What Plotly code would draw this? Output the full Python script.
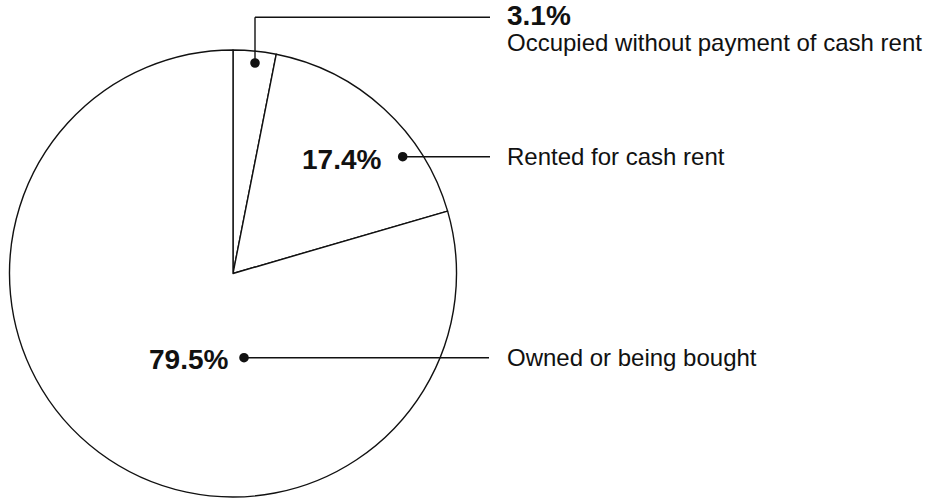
import plotly.graph_objects as go

W, H = 938, 498

categories = ["Occupied without payment of cash rent", "Rented for cash rent", "Owned or being bought"]
values = [3.1, 17.4, 79.5]
pct_labels = ["3.1%", "17.4%", "79.5%"]

def px(x):
    return x / W

def py(y):
    return 1 - y / H

FONT = "Liberation Sans, Arial, Helvetica, sans-serif"
INK = "#111111"

# pie geometry (pixels)
cx, cy, r = 233, 273.5, 223.5

fig = go.Figure(go.Pie(
    labels=categories,
    values=values,
    sort=False,
    direction="clockwise",
    rotation=0,
    textinfo="none",
    hoverinfo="label+percent",
    marker=dict(colors=["white"] * 3, line=dict(color=INK, width=1.4)),
    domain=dict(x=[px(cx - r), px(cx + r)], y=[py(cy + r), py(cy - r)]),
    showlegend=False,
))

shapes = []
ann = []

def line(x0, y0, x1, y1):
    shapes.append(dict(type="line", xref="paper", yref="paper",
                       x0=px(x0), y0=py(y0), x1=px(x1), y1=py(y1),
                       line=dict(color=INK, width=1.4)))

def dot(x, y, rad=4.8):
    shapes.append(dict(type="circle", xref="paper", yref="paper",
                       x0=px(x - rad), x1=px(x + rad), y0=py(y + rad), y1=py(y - rad),
                       fillcolor=INK, line=dict(color=INK, width=0)))

def text(t, x, y, size, bold=False, xanchor="left", yanchor="middle"):
    ann.append(dict(text=f"<b>{t}</b>" if bold else t, xref="paper", yref="paper",
                    x=px(x), y=py(y), xanchor=xanchor, yanchor=yanchor, align="left",
                    showarrow=False, font=dict(family=FONT, size=size, color=INK),
                    borderpad=0))

TX = 506
# 3.1% leader
dot(255, 63)
line(255, 63, 255, 17.3)
line(255, 17.3, 490, 17.3)
text(f"<span style='font-size:28px'><b>{pct_labels[0]}</b></span><br>"
     f"<span style='font-size:24px'>{categories[0]}</span>",
     TX, 27.5, 20)

# 17.4% leader
dot(402.7, 156.7)
line(402.7, 156.7, 490, 156.7)
text(pct_labels[1], 381.5, 159.5, 28, bold=True, xanchor="right")
text(categories[1], TX, 157, 24)

# 79.5% leader
dot(244, 357.7)
line(244, 357.7, 489, 357.7)
text(pct_labels[2], 228.5, 359, 28, bold=True, xanchor="right")
text(categories[2], TX, 357.5, 24)

fig.update_layout(
    width=W, height=H,
    margin=dict(l=0, r=0, t=0, b=0),
    paper_bgcolor="white", plot_bgcolor="white",
    shapes=shapes, annotations=ann,
)

fig.write_html("out.html", config={"displayModeBar": False},
               post_script="document.body.style.margin='0px';")
